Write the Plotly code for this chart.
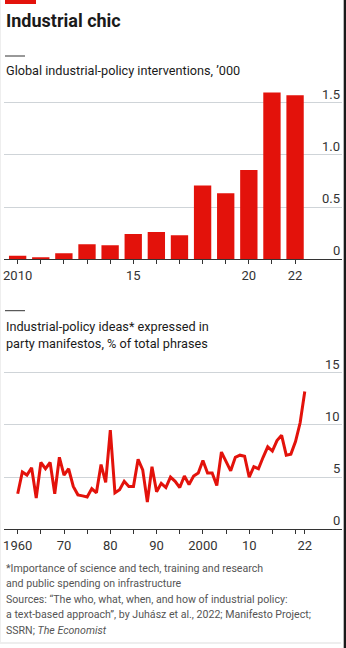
import plotly.graph_objects as go

W, H = 346, 648

# ---- data ----
bar_years = list(range(2010, 2023))
interventions = [0.035, 0.02, 0.057, 0.144, 0.134, 0.243, 0.262, 0.23, 0.706, 0.632, 0.856, 1.597, 1.571]
bar_tickvals = list(range(2010, 2023))
bar_ticktext = ["2010", "", "", "", "", "15", "", "", "", "", "20", "", "22"]

line_years = list(range(1960, 2023))
ideas_share = [3.4, 5.5, 5.2, 5.9, 3.0, 6.4, 5.8, 6.4, 3.4, 6.9,
               5.2, 5.8, 4.1, 3.3, 3.2, 3.1, 3.9, 3.5, 6.2, 4.5,
               9.5, 3.5, 3.8, 4.6, 4.1, 4.1, 6.7, 5.7, 2.6, 6.0,
               3.6, 4.4, 4.0, 5.0, 4.6, 4.0, 5.1, 4.3, 5.1, 5.4,
               6.6, 5.4, 5.4, 4.2, 7.4, 6.5, 5.6, 6.9, 7.1, 7.0,
               5.0, 6.0, 5.8, 6.9, 7.9, 7.5, 8.5, 9.0, 7.1, 7.2,
               8.4, 10.2, 13.2]
line_tickvals = [1960, 1965, 1970, 1975, 1980, 1985, 1990, 1995, 2000, 2005, 2010, 2015, 2020, 2022]
line_ticktext = ["1960", "", "70", "", "80", "", "90", "", "2000", "", "10", "", "", "22"]

bar_yticks = [0, 0.5, 1.0, 1.5]
bar_yticktext = ["0", "0.5", "1.0", "1.5"]
line_yticks = [0, 5, 10, 15]
line_yticktext = ["0", "5", "10", "15"]

RED = "#E3120B"
FONT = "Roboto, sans-serif"

def px_x(p):
    return p / W

def px_y(p):
    return 1 - p / H

fig = go.Figure()
fig.add_trace(go.Bar(x=bar_years, y=interventions, marker=dict(color=RED, line=dict(width=0)),
                     width=0.75, xaxis="x", yaxis="y", hoverinfo="skip"))
fig.add_trace(go.Scatter(x=line_years, y=ideas_share, mode="lines",
                         line=dict(color=RED, width=3), xaxis="x2", yaxis="y2", hoverinfo="skip"))

dom_x = [px_x(4), px_x(342)]
axis_font = dict(family=FONT, size=13, color="#333333")

fig.update_layout(
    width=W, height=H, margin=dict(l=0, r=0, t=0, b=0),
    paper_bgcolor="white", plot_bgcolor="white", showlegend=False,
    font=dict(family=FONT, color="#1a1a1a"),
    xaxis=dict(domain=dom_x, range=[2009.41, 2024.03], tickvals=bar_tickvals, ticktext=bar_ticktext,
               ticks="outside", ticklen=4, tickcolor="#333333", showline=True, linecolor="#333333",
               linewidth=1, showgrid=False, zeroline=False, tickfont=axis_font, anchor="y"),
    yaxis=dict(domain=[px_y(259.3), px_y(88)], range=[0, 1.641], side="right", tickvals=bar_yticks,
               showticklabels=False, showgrid=True,
               gridcolor="#cfd4d8", gridwidth=1, zeroline=False, showline=False, ticks="", anchor="x"),
    xaxis2=dict(domain=dom_x, range=[1957.04, 2030.04], tickvals=line_tickvals, ticktext=line_ticktext,
                ticks="outside", ticklen=4, tickcolor="#333333", showline=True, linecolor="#333333",
                linewidth=1, showgrid=False, zeroline=False, tickfont=axis_font, anchor="y2"),
    yaxis2=dict(domain=[px_y(529.3), px_y(365)], range=[0, 15.74], side="right", tickvals=line_yticks,
                showticklabels=False, showgrid=True, gridcolor="#cfd4d8", gridwidth=1,
                zeroline=False, showline=False, ticks="", anchor="x2"),
)

shapes = [
    dict(type="rect", xref="paper", yref="paper", x0=px_x(5), x1=px_x(36), y0=px_y(4), y1=px_y(0),
         fillcolor=RED, line=dict(width=0)),
    dict(type="line", xref="paper", yref="paper", x0=px_x(5), x1=px_x(25), y0=px_y(56), y1=px_y(56),
         line=dict(color="#333333", width=1)),
    dict(type="line", xref="paper", yref="paper", x0=px_x(5), x1=px_x(25), y0=px_y(310.7), y1=px_y(310.7),
         line=dict(color="#333333", width=1)),
    dict(type="line", xref="paper", yref="paper", x0=px_x(0), x1=px_x(341), y0=px_y(643), y1=px_y(643),
         line=dict(color="#dddddd", width=1)),
    dict(type="line", xref="paper", yref="paper", x0=px_x(0.5), x1=px_x(0.5), y0=px_y(0), y1=px_y(643),
         line=dict(color="#eeeeee", width=1)),
    dict(type="rect", xref="paper", yref="paper", x0=px_x(343.7), x1=px_x(346), y0=0, y1=1,
         fillcolor="#1a1a1a", line=dict(width=0)),
]
fig.update_layout(shapes=shapes)

def note(text, x, y, size, color="#1a1a1a", bold=False):
    if bold:
        text = "<b>" + text + "</b>"
    return dict(text=text, xref="paper", yref="paper", x=px_x(x), y=px_y(y), xanchor="left",
                yanchor="middle", showarrow=False, font=dict(family=FONT, size=size, color=color),
                align="left")

anns = [
    note("Industrial chic", 4, 20.5, 18, bold=True),
    note("Global industrial-policy interventions, \u2019000", 4, 70, 12.7),
    note("Industrial-policy ideas* expressed in", 4, 326, 12.7),
    note("party manifestos, % of total phrases", 4, 343, 12.7),
    note("*Importance of science and tech, training and research", 4, 568, 10.6, color="#555555"),
    note("and public spending on infrastructure", 4, 583.5, 10.6, color="#555555"),
    note("Sources: \u201cThe who, what, when, and how of industrial policy:", 4, 599, 10.6, color="#555555"),
    note("a text-based approach\u201d, by Juh\u00e1sz et al., 2022; Manifesto Project;", 4, 614.5, 10.6, color="#555555"),
    note("SSRN; <i>The Economist</i>", 4, 630, 10.6, color="#555555"),
]

for v, t in zip(bar_yticks, bar_yticktext):
    anns.append(dict(text=t, xref="paper", yref="y", x=px_x(342), y=v, xanchor="right", yanchor="bottom",
                     showarrow=False, font=axis_font, yshift=-1))
for v, t in zip(line_yticks, line_yticktext):
    anns.append(dict(text=t, xref="paper", yref="y2", x=px_x(342), y=v, xanchor="right", yanchor="bottom",
                     showarrow=False, font=axis_font, yshift=-1))

fig.update_layout(annotations=anns)

fig.write_html("out.html")
